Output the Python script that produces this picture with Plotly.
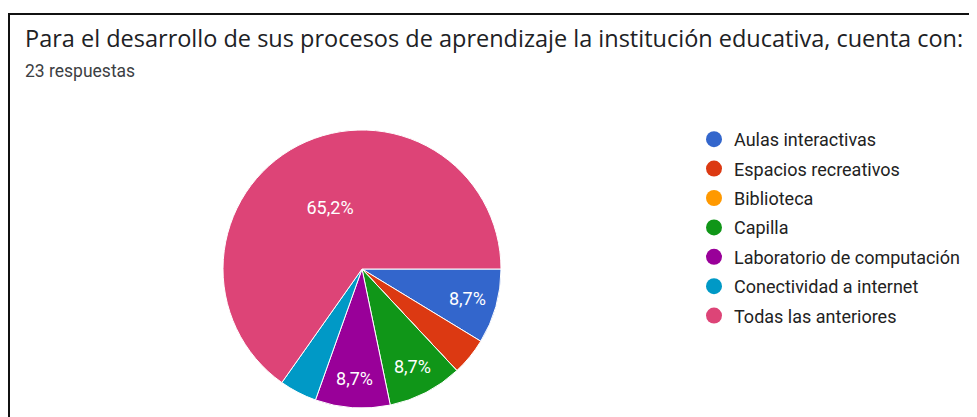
import plotly.graph_objects as go

title = "Para el desarrollo de sus procesos de aprendizaje la institución educativa, cuenta con:"
subtitle = "23 respuestas"
categories = ["Aulas interactivas", "Espacios recreativos", "Biblioteca", "Capilla",
              "Laboratorio de computación", "Conectividad a internet", "Todas las anteriores"]
counts = [2, 1, 0, 2, 2, 1, 15]
colors = ["#3366cc", "#dc3912", "#ff9900", "#109618", "#990099", "#0099c6", "#dd4477"]

W, H = 977, 417
OFF = 8  # default page body margin; positions below are in page pixels


def px(x):
    return (x - OFF) / W


def py(y):
    return 1 - (y - OFF) / H


total = sum(counts)
texts = []
for c in counts:
    p = 100.0 * c / total
    texts.append(f"{p:.1f}".replace(".", ",") + "%" if p >= 5 else "")

fig = go.Figure()
cx, cy, r = 362, 269, 139
fig.add_trace(go.Pie(
    labels=categories, values=counts, sort=False, direction="clockwise", rotation=90,
    marker=dict(colors=colors, line=dict(color="white", width=1)),
    text=texts, textinfo="text", textposition="inside", insidetextorientation="horizontal",
    textfont=dict(family="Roboto", size=18, color="white"),
    hoverinfo="label+percent", showlegend=False,
    domain=dict(x=[px(cx - r), px(cx + r)], y=[py(cy + r), py(cy - r)]),
))
for i, (cat, col) in enumerate(zip(categories, colors)):
    fig.add_trace(go.Scatter(x=[None], y=[None], mode="markers", name=cat,
                             legendgroup=f"g{i}",
                             marker=dict(color=col, size=18, symbol="circle")))

fig.update_layout(
    width=W, height=H, margin=dict(l=0, r=0, t=0, b=0),
    paper_bgcolor="white", plot_bgcolor="white",
    xaxis=dict(visible=False), yaxis=dict(visible=False),
    legend=dict(x=px(694), y=py(121), xanchor="left", yanchor="top",
                font=dict(family="Roboto", size=18, color="#222222"),
                traceorder="grouped", tracegroupgap=3, itemclick=False),
    annotations=[
        dict(text=title, x=px(23), y=py(38), xref="paper", yref="paper",
             xanchor="left", yanchor="middle", showarrow=False,
             font=dict(family="Open Sans", size=23.5, color="#202124")),
        dict(text=subtitle, x=px(23), y=py(71), xref="paper", yref="paper",
             xanchor="left", yanchor="middle", showarrow=False,
             font=dict(family="Roboto", size=17.5, color="#3c4043")),
    ],
    shapes=[
        dict(type="line", xref="paper", yref="paper", x0=px(8), x1=1, y0=py(14), y1=py(14),
             line=dict(color="#111111", width=2)),
        dict(type="line", xref="paper", yref="paper", x0=px(9), x1=px(9), y0=0, y1=py(14),
             line=dict(color="#111111", width=2)),
    ],
)
fig.write_html("out.html")
